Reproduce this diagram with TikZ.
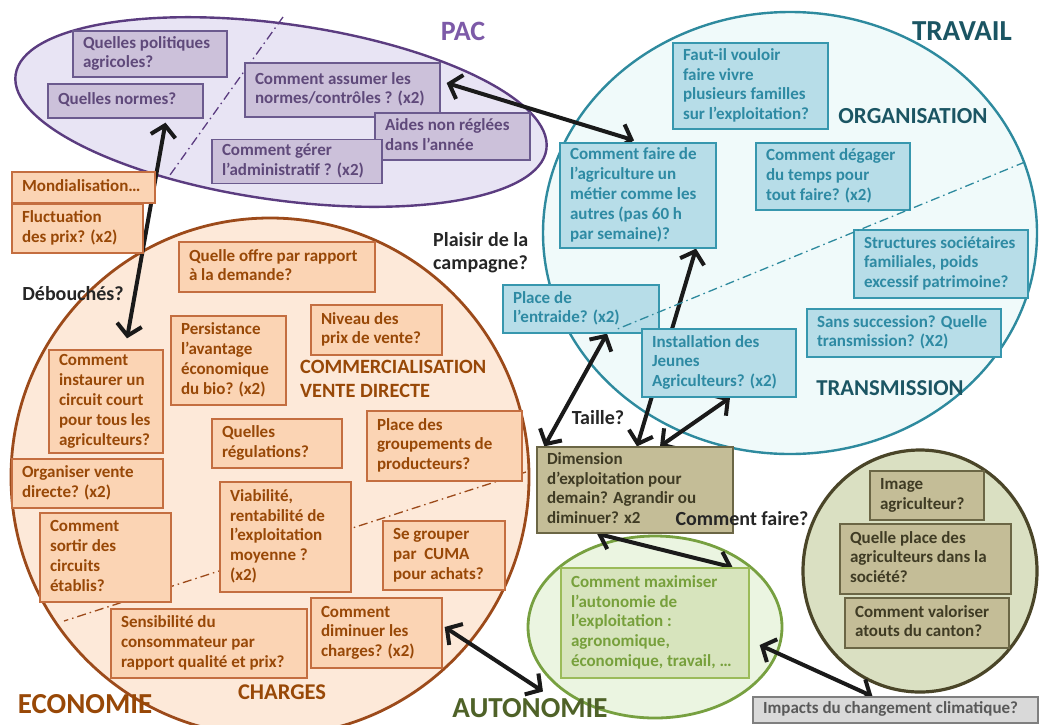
\documentclass[tikz,border=0pt]{standalone}
\usepackage{fontspec}
\setmainfont{Carlito}
\usetikzlibrary{shapes.geometric,arrows.meta,calc}
\definecolor{pacfill}{HTML}{E8E4F4}
\definecolor{pacdraw}{HTML}{5B3C80}
\definecolor{pacbfill}{HTML}{CCC1DA}
\definecolor{pacbdraw}{HTML}{6B5A8E}
\definecolor{pactext}{HTML}{5F497A}
\definecolor{paclab}{HTML}{7D5AA8}
\definecolor{travfill}{HTML}{F0FAFA}
\definecolor{travdraw}{HTML}{2E8A9E}
\definecolor{travbfill}{HTML}{B7DDE8}
\definecolor{travbdraw}{HTML}{3797AE}
\definecolor{travtext}{HTML}{2E8AA3}
\definecolor{travlab}{HTML}{1B5563}
\definecolor{ecofill}{HTML}{FDE9D9}
\definecolor{ecodraw}{HTML}{9C4A1A}
\definecolor{ecobfill}{HTML}{FBD4B4}
\definecolor{ecobdraw}{HTML}{C46E40}
\definecolor{ecotext}{HTML}{984807}
\definecolor{autofill}{HTML}{EBF5E1}
\definecolor{autodraw}{HTML}{77A040}
\definecolor{autobfill}{HTML}{D7E4BD}
\definecolor{autobdraw}{HTML}{9BBB59}
\definecolor{autotext}{HTML}{77A03C}
\definecolor{autolab}{HTML}{4F6228}
\definecolor{socfill}{HTML}{DAE0C2}
\definecolor{socdraw}{HTML}{4A4528}
\definecolor{socbfill}{HTML}{C4BD97}
\definecolor{socbdraw}{HTML}{6B6645}
\definecolor{soctext}{HTML}{3F3B24}
\definecolor{impfill}{HTML}{D9D9D9}
\definecolor{impdraw}{HTML}{7F7F7F}
\definecolor{imptext}{HTML}{595959}
\definecolor{arrowc}{HTML}{1A1A1A}
\definecolor{labc}{HTML}{262626}
\pgfdeclarelayer{back}
\pgfdeclarelayer{mid}
\pgfsetlayers{back,mid,main}
\tikzset{
  qb/.style={draw, line width=1.3pt, inner sep=2pt,
    font=\fontsize{17}{19.8}\selectfont\bfseries},
  pacbox/.style={qb, fill=pacbfill, draw=pacbdraw, text=pactext},
  travbox/.style={qb, fill=travbfill, draw=travbdraw, text=travtext},
  ecobox/.style={qb, fill=ecobfill, draw=ecobdraw, text=ecotext},
  autobox/.style={qb, fill=autobfill, draw=autobdraw, text=autotext},
  socbox/.style={qb, fill=socbfill, draw=socbdraw, text=soctext},
  impbox/.style={qb, fill=impfill, draw=impdraw, text=imptext},
  zone/.style={ellipse, inner sep=0pt},
  dashdot/.style={line width=1.3pt, dash pattern=on 9pt off 4pt on 1.5pt off 4pt},
  dbl/.style={line width=4pt, draw=arrowc,
    {Straight Barb[length=11pt,width=25pt]}-{Straight Barb[length=11pt,width=25pt]}},
  blab/.style={font=\fontsize{20}{23}\selectfont\bfseries, text=labc, align=left, inner sep=0pt},
  biglab/.style={font=\fontsize{#1}{#1}\selectfont\bfseries, inner sep=0pt},
}
\newcommand{\qbox}[7]{\pgfmathsetmacro\qbw{#5-#3-20}%
  \node[#1, minimum width={#5-#3}, minimum height={#6-#4}] (#2) at ({(#3+#5)/2},{(#4+#6)/2})
  {\makebox[\qbw pt][l]{\begin{tabular}{@{}l@{}}#7\end{tabular}}};}
\begin{document}
\begin{tikzpicture}[x=1pt,y=-1pt]
\useasboundingbox (0,0) rectangle (1040,724);
\begin{pgfonlayer}{back}
\fill[white] (0,0) rectangle (1040,724);
% zones
\node[zone, fill=ecofill, draw=ecodraw, line width=2.8pt, minimum width=518, minimum height=518] (eco) at (270,477) {};
\node[zone, fill=pacfill, draw=pacdraw, line width=2.4pt, minimum width=536, minimum height=176, rotate=-8] (pac) at (281,112) {};
\node[zone, fill=travfill, draw=travdraw, line width=2.4pt, minimum width=494, minimum height=442] (trav) at (790,233) {};
\node[zone, fill=autofill, draw=autodraw, line width=2.8pt, minimum width=254, minimum height=182] (auto) at (655,627) {};
\node[zone, fill=socfill, draw=socdraw, line width=3.2pt, minimum width=234, minimum height=242] (soc) at (920,571) {};
\draw[dashdot, draw=pacdraw] (283,17) -- (170,175);
\draw[dashdot, draw=ecodraw] (526,472) -- (64,621);
\end{pgfonlayer}

% PAC boxes
\qbox{pacbox}{politiques}{73}{31}{227}{77}{Quelles politiques\\agricoles?}
\qbox{pacbox}{normes}{48}{84}{203}{118}{Quelles normes?}
\qbox{pacbox}{assumer}{245}{63}{440}{117}{Comment assumer les\\normes/contrôles ? (x2)}
\qbox{pacbox}{aides}{375}{113}{530}{160}{Aides non réglées\\dans l’année}
\qbox{pacbox}{gerer}{212}{140}{382}{183}{Comment gérer\\l’administratif ? (x2)}

% TRAVAIL boxes
\qbox{travbox}{familles}{673}{43}{828}{129}{Faut-il vouloir\\faire vivre\\plusieurs familles\\sur l’exploitation?}
\qbox{travbox}{metier}{560}{143}{716}{248}{Comment faire de\\l’agriculture un\\métier comme les\\autres (pas 60 h\\par semaine)?}
\qbox{travbox}{temps}{756}{143}{910}{210}{Comment dégager\\du temps pour\\tout faire? (x2)}
\qbox{travbox}{structures}{854}{230}{1028}{298}{Structures sociétaires\\familiales, poids\\excessif patrimoine?}
\qbox{travbox}{succession}{807}{309}{1001}{357}{Sans succession? Quelle\\transmission? (X2)}
\qbox{travbox}{entraide}{503}{285}{659}{333}{Place de\\l’entraide? (x2)}
\qbox{travbox}{install}{642}{329}{796}{397}{Installation des\\Jeunes\\Agriculteurs? (x2)}
\draw[dashdot, draw=travdraw] (1025,162) -- (615,330);

% ECONOMIE boxes
\qbox{ecobox}{mondial}{12}{172}{155}{203}{Mondialisation…}
\qbox{ecobox}{fluct}{12}{204}{143}{253}{Fluctuation\\des prix? (x2)}
\qbox{ecobox}{offre}{179}{242}{375}{292}{Quelle offre par rapport\\à la demande?}
\qbox{ecobox}{niveau}{311}{305}{442}{355}{Niveau des\\prix de vente?}
\qbox{ecobox}{bio}{171}{316}{286}{405}{Persistance\\l’avantage\\économique\\du bio? (x2)}
\qbox{ecobox}{instaurer}{49}{351}{163}{452}{Comment\\instaurer un\\circuit court\\pour tous les\\agriculteurs?}
\qbox{ecobox}{regul}{212}{419}{342}{468}{Quelles\\régulations?}
\qbox{ecobox}{groupements}{367}{411}{522}{481}{Place des\\groupements de\\producteurs?}
\qbox{ecobox}{organiser}{12}{459}{163}{508}{Organiser vente\\directe? (x2)}
\qbox{ecobox}{sortir}{40}{513}{171}{602}{Comment\\sortir des\\circuits\\établis?}
\qbox{ecobox}{viab}{220}{482}{351}{592}{Viabilité,\\rentabilité de\\l’exploitation\\moyenne ?\\(x2)}
\qbox{ecobox}{cuma}{383}{521}{505}{590}{Se grouper\\par~ CUMA\\pour achats?}
\qbox{ecobox}{sensib}{111}{609}{307}{678}{Sensibilité du\\consommateur par\\rapport qualité et prix?}
\qbox{ecobox}{charges}{311}{598}{442}{668}{Comment\\diminuer les\\charges? (x2)}

% central / autonomie / societe
\qbox{socbox}{dim}{537}{447}{733}{533}{Dimension\\d’exploitation pour\\demain? Agrandir ou\\diminuer? x2}
\qbox{autobox}{autob}{561}{568}{749}{678}{Comment maximiser\\l’autonomie de\\l’exploitation :\\agronomique,\\économique, travail, …}
\qbox{socbox}{image}{870}{471}{984}{520}{Image\\agriculteur?}
\qbox{socbox}{place}{840}{524}{1011}{594}{Quelle place des\\agriculteurs dans la\\société?}
\qbox{socbox}{valoriser}{845}{598}{1009}{648}{Comment valoriser\\atouts du canton?}
\qbox{impbox}{impacts}{753}{697}{1038}{723}{Impacts du changement climatique?}

% labels
\node[biglab=28, text=paclab] (lpac) at (463,31) {PAC};
\node[biglab=29, text=travlab] (ltrav) at (962,31) {TRAVAIL};
\node[biglab=23, text=travlab] (lorg) at (913,116) {ORGANISATION};
\node[biglab=22.7, text=travlab] (ltrans) at (890,388) {TRANSMISSION};
\node[biglab=20.3, text=ecotext, align=left, anchor=west, font=\fontsize{20.3}{24.5}\selectfont\bfseries] (lcomm) at (300,379) {COMMERCIALISATION\\VENTE DIRECTE};
\node[biglab=22.5, text=ecotext] (lcharges) at (282,692) {CHARGES};
\node[biglab=29, text=ecotext] (leco) at (85,704) {ECONOMIE};
\node[biglab=29, text=autolab] (lauto) at (530,708) {AUTONOMIE};
\node[blab] (ldeb) at (73,294) {Débouchés?};
\node[blab, anchor=west] (lplaisir) at (433,253) {Plaisir de la\\campagne?};
\node[blab] (ltaille) at (598,418) {Taille?};
\node[blab] (lfaire) at (742,519) {Comment faire?};

% arrows
\begin{pgfonlayer}{mid}
\draw[dbl] ([xshift=40pt,yshift=-4pt]normes.south) -- ([xshift=21pt,yshift=11pt]instaurer.north);
\draw[dbl] ([xshift=6pt,yshift=7pt]assumer.east) -- ([xshift=-4pt,yshift=2pt]metier.north);
\draw[dbl] ([xshift=26pt]entraide.south) -- ([xshift=8pt]dim.north west);
\draw[dbl] ([xshift=2pt]dim.north) -- ([xshift=58pt]metier.south);
\draw[dbl] ([xshift=11pt]install.south) -- ([xshift=25pt]dim.north);
\draw[dbl] ([xshift=-38pt]dim.south) -- ([xshift=-17pt]autob.north east);
\draw[dbl] ([xshift=2pt,yshift=6pt]charges.east) -- ([xshift=-20pt]auto.-145);
\draw[dbl] ([xshift=10pt,yshift=-22pt]autob.east) -- ([xshift=-23pt]impacts.north);
\end{pgfonlayer}
\end{tikzpicture}
\end{document}
